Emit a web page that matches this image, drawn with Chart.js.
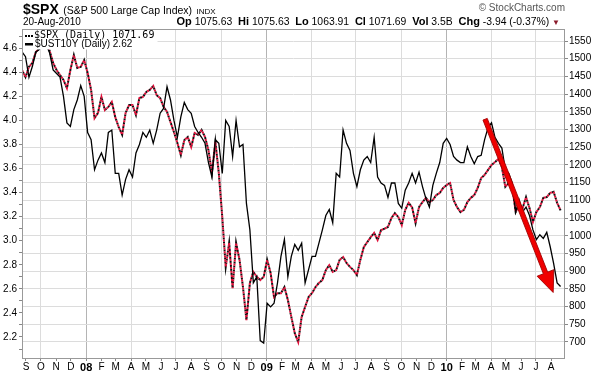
<!DOCTYPE html>
<html>
<head>
<meta charset="utf-8">
<script src="https://cdn.jsdelivr.net/npm/chart.js@4.4.0/dist/chart.umd.min.js"></script>
<style>
  body { margin: 0; background: #fff; }
  #wrap { position: relative; width: 598px; height: 375px; font-family: 'Liberation Sans', Arial, sans-serif; color: #000; }
  #wrap canvas { position: absolute; left: 0; top: 0; }
  .t { position: absolute; white-space: nowrap; line-height: 1; }
  .t b { font-size: 11px; }
</style>
</head>
<body>
<div id="wrap">
  <canvas id="myChart" width="598" height="375"></canvas>
  <div class="t" style="left:23px;top:1px"><span style="font-weight:bold;font-size:14px">$SPX</span> <span style="font-size:10.5px">(S&amp;P 500 Large Cap Index)</span> <span style="font-size:8px">INDX</span></div>
  <div class="t" style="left:23px;top:17px;font-size:10px">20-Aug-2010</div>
  <div class="t" style="right:38px;top:16px;font-size:10.4px"><b>Op</b> 1075.63 &nbsp;<b>Hi</b> 1075.63 &nbsp;<b>Lo</b> 1063.91 &nbsp;<b>Cl</b> 1071.69 &nbsp;<b>Vol</b> 3.5B &nbsp;<b>Chg</b> -3.94 (-0.37%) <span style="color:#8b1a2b;font-size:8px">&#9660;</span></div>
  <div class="t" style="right:33px;top:3px;font-size:10px;color:#555">&copy; StockCharts.com</div>
</div>
<script>
  // weekly closes, 24-Aug-2007 .. 20-Aug-2010
  const firstWeek = '2007-08-24'

  const spx = [
    1468, 1448, 1477, 1488, 1519, 1530, 1560, 1550, 1522, 1488,
    1468, 1454, 1440, 1417, 1468, 1510, 1474, 1477, 1496, 1460,
    1412, 1332, 1347, 1392, 1355, 1364, 1378, 1335, 1307, 1285,
    1347, 1369, 1369, 1341, 1389, 1392, 1406, 1412, 1423, 1397,
    1389, 1364, 1350, 1321, 1293, 1262, 1228, 1270, 1279, 1251,
    1290, 1285, 1299, 1279, 1242, 1177, 1265, 1177, 1053, 912,
    980, 852, 980, 932, 855, 762, 867, 898, 884, 875,
    884, 932, 895, 827, 838, 838, 855, 819, 771, 725,
    700, 771, 799, 827, 838, 855, 867, 875, 903, 917,
    898, 903, 932, 940, 923, 912, 903, 889, 932, 968,
    982, 996, 1008, 988, 1016, 1020, 1025, 1050, 1064, 1053,
    1030, 1073, 1093, 1080, 1036, 1081, 1095, 1107, 1095, 1101,
    1115, 1121, 1135, 1143, 1149, 1101, 1081, 1067, 1073, 1095,
    1107, 1115, 1135, 1163, 1172, 1186, 1200, 1208, 1217, 1194,
    1138, 1149, 1138, 1067, 1087, 1078, 1109, 1078, 1039, 1067,
    1081, 1107, 1109, 1121, 1124, 1093, 1071.69
  ]

  const ust10y = [
    4.57, 4.53, 4.36, 4.45, 4.57, 4.59, 4.63, 4.63, 4.56, 4.42,
    4.39, 4.36, 4.20, 3.98, 3.95, 4.09, 4.17, 4.29, 4.20, 3.90,
    3.84, 3.59, 3.67, 3.73, 3.65, 3.90, 3.92, 3.56, 3.56, 3.38,
    3.51, 3.59, 3.53, 3.73, 3.80, 3.90, 3.86, 3.92, 3.81, 3.92,
    4.06, 4.10, 4.28, 4.17, 4.00, 3.86, 4.03, 4.15, 4.09, 4.06,
    3.95, 3.90, 3.86, 3.81, 3.65, 3.53, 3.84, 3.81, 3.56, 4.00,
    3.95, 3.70, 4.00, 3.78, 3.80, 3.31, 3.09, 2.65, 2.70, 2.17,
    2.15, 2.48, 2.45, 2.48, 2.65, 2.87, 3.01, 2.70, 2.87, 2.97,
    2.92, 2.98, 2.65, 2.76, 2.87, 2.87, 2.98, 3.09, 3.21, 3.26,
    3.15, 3.56, 3.53, 3.92, 3.81, 3.75, 3.56, 3.45, 3.59, 3.67,
    3.70, 3.65, 3.86, 3.53, 3.48, 3.46, 3.36, 3.48, 3.48, 3.31,
    3.27, 3.42, 3.48, 3.56, 3.48, 3.57, 3.45, 3.35, 3.28, 3.46,
    3.56, 3.65, 3.81, 3.85, 3.80, 3.70, 3.67, 3.65, 3.65, 3.78,
    3.70, 3.64, 3.70, 3.71, 3.84, 3.94, 3.98, 3.86, 3.81, 3.77,
    3.59, 3.56, 3.48, 3.24, 3.34, 3.24, 3.28, 3.21, 3.09, 3.01,
    3.05, 3.02, 3.07, 2.95, 2.81, 2.65, 2.62
  ]

  const monthLetters = ['J', 'F', 'M', 'A', 'M', 'J', 'J', 'A', 'S', 'O', 'N', 'D']
  const firstMonth = '2007-09-01'
  const monthCount = 36

  // trend arrow, in chart units (date, yield)
  const arrowFrom = { date: '2010-03-20', value: 4.01 }
  const arrowTo = { date: '2010-08-05', value: 2.57 }

  const DAY = 86400000
  const origin = Date.parse(firstMonth)
  const dayOf = (s) => (Date.parse(s) - origin) / DAY
  const dateOf = (d) => new Date(origin + d * DAY)

  const startDay = dayOf(firstWeek)
  const weekDays = spx.map((_, i) => startDay + 7 * i)

  const monthTicks = []
  for (let m = 0; m < monthCount; m++) {
    monthTicks.push({ value: (Date.UTC(2007, 8 + m, 1) - origin) / DAY })
  }

  const spxPoints = spx.map((v, i) => ({ x: weekDays[i], y: v }))
  const ustPoints = ust10y.map((v, i) => ({ x: weekDays[i], y: v }))

  const tickFont = { family: "'Liberation Sans', Arial, sans-serif", size: 10 }

  const overlay = {
    id: 'overlay',
    afterDatasetsDraw(chart) {
      const c = chart.ctx
      const a = chart.chartArea
      const xs = chart.scales.x
      const ys = chart.scales.y

      // red trend arrow
      const x1 = xs.getPixelForValue(dayOf(arrowFrom.date))
      const y1 = ys.getPixelForValue(arrowFrom.value)
      const x2 = xs.getPixelForValue(dayOf(arrowTo.date))
      const y2 = ys.getPixelForValue(arrowTo.value)
      const ang = Math.atan2(y2 - y1, x2 - x1)
      const len = Math.hypot(x2 - x1, y2 - y1)
      const hl = 21, hw = 9, sw = 2.3
      c.save()
      c.translate(x1, y1)
      c.rotate(ang)
      c.beginPath()
      c.moveTo(0, -sw)
      c.lineTo(len - hl, -sw)
      c.lineTo(len - hl, -hw)
      c.lineTo(len, 0)
      c.lineTo(len - hl, hw)
      c.lineTo(len - hl, sw)
      c.lineTo(0, sw)
      c.closePath()
      c.fillStyle = '#f00000'
      c.fill()
      c.lineWidth = 0.8
      c.strokeStyle = '#a00000'
      c.stroke()
      c.restore()

      // legend box
      c.save()
      c.fillStyle = '#fff'
      c.fillRect(a.left + 0.5, a.top + 0.5, 135, 20)
      c.fillStyle = '#000'
      for (let i = 0; i < 3; i++) c.fillRect(a.left + 3 + i * 3, a.top + 6, 2, 2)
      c.fillRect(a.left + 3, a.top + 14, 8, 2.5)
      c.textBaseline = 'middle'
      c.font = "10px 'DejaVu Sans Mono', monospace"
      c.fillText('$SPX (Daily) 1071.69', a.left + 12, a.top + 6.5)
      c.font = "10px 'Liberation Sans', Arial, sans-serif"
      c.fillText('$UST10Y (Daily) 2.62', a.left + 13, a.top + 15.5)
      c.restore()

      // frame
      c.save()
      c.strokeStyle = '#999'
      c.lineWidth = 1
      c.strokeRect(a.left + 0.5, a.top + 0.5, a.right - a.left - 1, a.bottom - a.top)
      c.restore()
    }
  }

  const ctx = document.getElementById('myChart')

  new Chart(ctx, {
    type: 'line',
    data: {
      datasets: [
        {
          label: '$UST10Y (Daily)',
          data: ustPoints,
          yAxisID: 'y',
          borderColor: '#000',
          borderWidth: 1.3,
          pointRadius: 0,
          order: 0
        },
        {
          label: '$SPX (Daily) red',
          data: spxPoints,
          yAxisID: 'y2',
          borderColor: '#e0103a',
          borderWidth: 2,
          borderDash: [2, 2],
          pointRadius: 0,
          order: 1
        },
        {
          label: '$SPX (Daily)',
          data: spxPoints,
          yAxisID: 'y2',
          borderColor: '#111',
          borderWidth: 2,
          borderDash: [2, 2],
          borderDashOffset: 2,
          pointRadius: 0,
          order: 2
        }
      ]
    },
    options: {
      responsive: false,
      animation: false,
      layout: { padding: { top: 29 } },
      plugins: { legend: { display: false }, tooltip: { enabled: false } },
      scales: {
        x: {
          type: 'linear',
          min: -8.1,
          max: 1093,
          afterBuildTicks: (s) => { s.ticks = monthTicks.map(t => ({ value: t.value })) },
          afterFit: (s) => { s.height = 17 },
          border: { display: false },
          grid: {
            tickLength: 3,
            tickColor: '#888',
            color: (c) => {
              if (!c.tick) return 'rgba(0,0,0,0)'
              const m = dateOf(c.tick.value).getUTCMonth()
              if (m === 0) return '#b4b4b4'
              if (m % 3 === 0) return '#dcdcdc'
              return 'rgba(0,0,0,0)'
            }
          },
          ticks: {
            autoSkip: false,
            maxRotation: 0,
            padding: 0,
            color: '#000',
            font: (c) => {
              const jan = c.tick && dateOf(c.tick.value).getUTCMonth() === 0
              return { family: tickFont.family, size: jan ? 11 : 10, weight: jan ? 'bold' : 'normal' }
            },
            callback: (v) => {
              const d = dateOf(v)
              const m = d.getUTCMonth()
              return m === 0 ? String(d.getUTCFullYear()).slice(2) : monthLetters[m]
            }
          }
        },
        y: {
          position: 'left',
          min: 2.0254,
          max: 4.76,
          afterFit: (s) => { s.width = 22 },
          border: { display: false },
          grid: { drawOnChartArea: false, tickLength: 3, tickColor: '#888' },
          ticks: {
            stepSize: 0.1,
            autoSkip: false,
            includeBounds: false,
            padding: 2,
            color: '#000',
            font: tickFont,
            callback: (v) => (Math.round(v * 10) % 2 === 0 ? v.toFixed(1) : '')
          }
        },
        y2: {
          position: 'right',
          min: 654.8,
          max: 1583.9,
          afterFit: (s) => { s.width = 33 },
          border: { display: false },
          grid: { color: '#dcdcdc', tickLength: 3, tickColor: '#888' },
          ticks: {
            stepSize: 50,
            autoSkip: false,
            includeBounds: false,
            padding: 1,
            color: '#000',
            font: tickFont,
            callback: (v) => String(v)
          }
        }
      }
    },
    plugins: [overlay]
  })
</script>
</body>
</html>
